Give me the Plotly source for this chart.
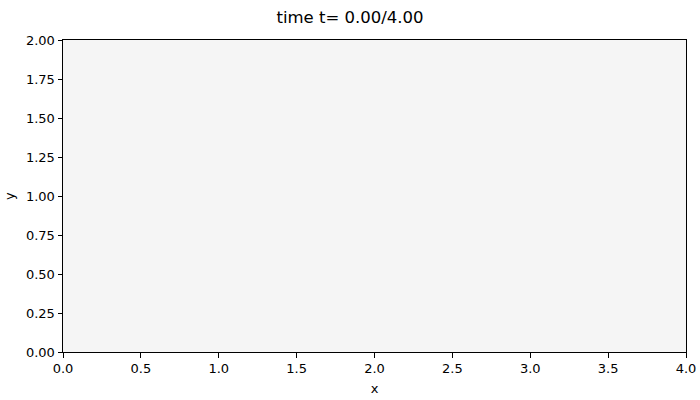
import plotly.graph_objects as go

x_grid = [0.0, 0.5, 1.0, 1.5, 2.0, 2.5, 3.0, 3.5, 4.0]
y_grid = [0.0, 0.5, 1.0, 1.5, 2.0]
field = [[0.0] * len(x_grid) for _ in y_grid]

x_ticks = [0.0, 0.5, 1.0, 1.5, 2.0, 2.5, 3.0, 3.5, 4.0]
x_tick_labels = ["0.0", "0.5", "1.0", "1.5", "2.0", "2.5", "3.0", "3.5", "4.0"]
y_ticks = [0.0, 0.25, 0.5, 0.75, 1.0, 1.25, 1.5, 1.75, 2.0]
y_tick_labels = ["0.00", "0.25", "0.50", "0.75", "1.00", "1.25", "1.50", "1.75", "2.00"]
title_text = "time t= 0.00/4.00"
x_label = "x"
y_label = "y"

fig = go.Figure(go.Heatmap(
    x=x_grid, y=y_grid, z=field,
    zmin=-1, zmax=1, zsmooth="best",
    colorscale=[[0, "#f5f5f5"], [1, "#f5f5f5"]],
    showscale=False, hoverinfo="skip",
))

font = "DejaVu Sans"
fig.update_layout(
    width=700, height=400,
    margin=dict(l=63, r=14, t=40, b=48, autoexpand=False),
    paper_bgcolor="white", plot_bgcolor="#f5f5f5",
    font=dict(family=font, size=13, color="black"),
    title=dict(text=title_text, x=0.5, xanchor="center", y=1 - 17.5 / 400, yanchor="middle",
               font=dict(family=font, size=16.5, color="black")),
    showlegend=False,
)
axis_common = dict(
    showgrid=False, zeroline=False, showline=True, linecolor="black", linewidth=1,
    mirror=True, ticks="outside", ticklen=4.5, tickwidth=1, tickcolor="black",
    automargin=False,
)
fig.update_xaxes(range=[0, 4], tickmode="array", tickvals=x_ticks, ticktext=x_tick_labels,
                 title=dict(text=x_label, standoff=8, font=dict(size=13)), **axis_common)
fig.update_yaxes(range=[0, 2], tickmode="array", tickvals=y_ticks, ticktext=y_tick_labels,
                 **axis_common)
fig.add_annotation(text=y_label, xref="paper", yref="paper", x=0, y=0.5,
                   xanchor="center", yanchor="middle", xshift=-54, textangle=-90,
                   showarrow=False, font=dict(family=font, size=13, color="black"))

fig.write_html("out.html", config={"displayModeBar": False},
               post_script="document.body.style.margin='0px';")
